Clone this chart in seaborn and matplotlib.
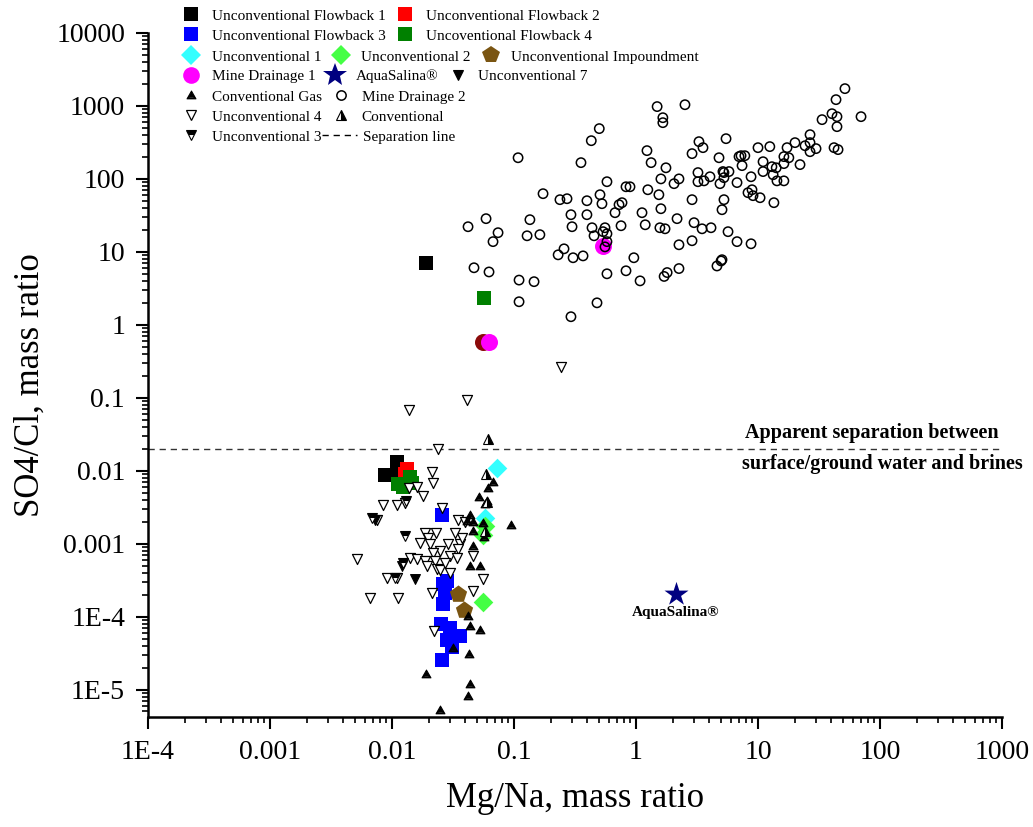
import numpy as np
import matplotlib
matplotlib.use("Agg")
import matplotlib.pyplot as plt
import seaborn as sns
from matplotlib.lines import Line2D
from matplotlib.path import Path
from matplotlib.ticker import LogLocator, NullFormatter

# ---------------- data (Mg/Na vs SO4/Cl mass ratios) ----------------
fb1_x = [0.019, 0.0088, 0.011, 0.0115]
fb1_y = [7.0, 0.0088, 0.013, 0.010]
fb2_x = [0.0133, 0.0128]
fb2_y = [0.0106, 0.0090]
fb3_x = [0.0257, 0.0262, 0.0270, 0.0262, 0.028, 0.0252, 0.030, 0.036, 0.028, 0.031, 0.0259]
fb3_y = [0.0025, 2.8e-4, 2.1e-4, 1.5e-4, 3.1e-4, 8.0e-5, 7.0e-5, 5.5e-5, 4.7e-5, 3.8e-5, 2.5e-5]
fb4_x = [0.057, 0.0123, 0.0146, 0.0112, 0.014]
fb4_y = [2.3, 0.0059, 0.0068, 0.0066, 0.0082]
unc1_x = [0.0726, 0.0578]
unc1_y = [0.011, 0.00227]
unc2_x = [0.0578, 0.0557, 0.0557]
unc2_y = [0.00176, 0.0013, 1.56e-4]
imp_x = [0.0348, 0.0392]
imp_y = [2.07e-4, 1.25e-4]
md1_x = [0.062, 0.54]
md1_y = [0.585, 12.0]
other_x = [0.056]
other_y = [0.58]
aqua_x = [2.13]
aqua_y = [2.07e-4]
unc7_x = [0.0121, 0.0154, 0.0073]
unc7_y = [4.9e-4, 3.3e-4, 0.0021]
unc3_x = [0.0069, 0.0128, 0.0123, 0.0106, 0.013]
unc3_y = [0.00227, 0.00129, 5.5e-4, 3.4e-4, 0.0039]
gas_x = [0.0673, 0.0612, 0.0517, 0.060, 0.0578, 0.0436, 0.0461, 0.0412, 0.0557, 0.0461,
         0.0568, 0.0461, 0.0436, 0.0526, 0.0945, 0.0419, 0.0436, 0.0526, 0.0316, 0.0427,
         0.019, 0.0436, 0.0419, 0.0247]
gas_y = [0.0071, 0.0057, 0.0044, 0.0039, 0.0035, 0.0025, 0.0020, 0.00206, 0.00194, 0.0015,
         0.00124, 9.4e-4, 5.0e-4, 5.0e-4, 0.0018, 1.03e-4, 7.5e-5, 6.6e-5, 3.7e-5, 3.1e-5,
         1.64e-5, 1.2e-5, 8.2e-6, 5.3e-6]
conv_x = [0.0612, 0.0589, 0.0600, 0.0578]
conv_y = [0.0275, 0.0091, 0.0037, 0.0015]
unc4_x = [0.0138, 0.0412, 0.0238, 0.0213, 0.0217, 0.0138, 0.016, 0.018, 0.0084, 0.011,
          0.0128, 0.0257, 0.0075, 0.0348, 0.0397, 0.0186, 0.0229, 0.017, 0.0197, 0.0205,
          0.0288, 0.0361, 0.0348, 0.0375, 0.0247, 0.0217, 0.0141, 0.016, 0.0186, 0.0225,
          0.0299, 0.0341, 0.0052, 0.0461, 0.0194, 0.0234, 0.0299, 0.0091, 0.011, 0.0213,
          0.0112, 0.0461, 0.0557, 0.0221, 0.0066, 0.243, 0.0247, 0.0272, 0.033]
unc4_y = [0.0687, 0.094, 0.020, 0.0097, 0.0068, 0.0058, 0.0060, 0.0045, 0.0034, 0.0034,
          0.0036, 0.0031, 0.0021, 0.0021, 0.0020, 0.0014, 0.0014, 0.00103, 0.0012, 0.0010,
          0.0010, 0.0010, 8.5e-4, 0.0012, 8.0e-4, 7.5e-4, 6.4e-4, 6.2e-4, 5.8e-4, 5.8e-4,
          6.8e-4, 6.4e-4, 6.1e-4, 6.8e-4, 5.0e-4, 4.5e-4, 4.0e-4, 3.4e-4, 3.4e-4, 2.1e-4,
          1.8e-4, 2.26e-4, 3.3e-4, 6.4e-5, 1.78e-4, 0.267, 4.3e-4, 5.4e-4, 0.0014]
md2_x = [1.49, 2.52, 1.66, 1.66, 0.50, 0.43, 0.108, 0.354, 1.23, 1.33,
         1.76, 3.28, 3.54, 5.47, 2.88, 4.79, 6.99, 3.22, 4.04, 5.16,
         5.78, 0.578, 0.828, 0.893, 1.25, 1.60, 2.25, 2.05, 3.22, 3.61,
         4.88, 5.26, 6.73, 0.173, 0.238, 0.272, 0.396, 0.507, 0.526, 0.768,
         0.726, 1.54, 2.88, 5.26, 5.07, 1.60, 1.12, 0.673, 0.396, 0.293,
         0.135, 0.059, 0.042, 0.074, 0.0673, 0.128, 0.163, 0.299, 0.436, 0.557,
         0.453, 0.537, 0.578, 0.578, 0.557, 0.754, 1.19, 1.57, 1.73, 2.17,
         2.99, 3.48, 4.12, 5.68, 6.73, 2.88, 2.25, 0.96, 0.828, 1.08,
         0.578, 1.70, 1.80, 2.25, 4.61, 4.98, 0.23, 0.257, 0.305, 0.368,
         0.047, 0.0624, 0.11, 0.146, 0.11, 0.479, 0.293,
         51.6, 43.6, 40.4, 44.4, 33.5, 69.9, 44.4, 26.7, 20.1, 17.3,
         24.3, 26.7, 29.9, 26.7, 42.0, 45.3, 16.3, 17.9, 16.3, 22.1,
         12.5, 10.0, 7.8, 7.26, 7.4, 11.0, 13.0, 14.1, 11.0, 13.3,
         14.3, 16.3, 8.77, 5.26, 8.93, 8.28, 9.1, 10.4, 13.5, 8.77, 5.07]
md2_y = [980, 1040, 690, 590, 489, 334, 195, 167, 244, 167,
         142, 324, 268, 356, 222, 195, 202, 122, 107, 126,
         126, 91.5, 78, 78, 71, 100, 100, 86, 91.5, 94,
         86, 104, 89, 62.7, 51.9, 53.5, 50.2, 60.7, 45.7, 47.2,
         44.3, 60.7, 51.9, 51.9, 37.8, 39, 34.4, 34.4, 32.3, 32.3,
         27.6, 28.5, 22.1, 18.3, 13.8, 16.6, 17.2, 22.1, 21.4, 21.4,
         16.6, 18.9, 17.7, 13.8, 11.7, 22.8, 23.5, 21.4, 20.7, 28.5,
         25.1, 20.7, 21.4, 18.9, 13.8, 14.2, 12.5, 8.3, 5.5, 4.0,
         5.0, 4.6, 5.2, 5.9, 6.4, 7.5, 9.1, 11.0, 8.3, 8.8,
         6.05, 5.3, 4.1, 3.9, 2.07, 2.0, 1.29,
         1727, 1220, 783, 713, 649, 713, 520, 404, 314, 268,
         285, 314, 260, 236, 268, 252, 202, 195, 162, 157,
         277, 268, 208, 208, 152, 172, 147, 142, 126, 114,
         94, 94, 107, 122, 71, 64.7, 58.9, 55.2, 47.2, 12.9, 7.8]
SEPARATION = 0.02

x_ticks = [1e-4, 1e-3, 1e-2, 1e-1, 1, 10, 100, 1000]
x_tick_labels = ["1E-4", "0.001", "0.01", "0.1", "1", "10", "100", "1000"]
y_ticks = [1e-5, 1e-4, 1e-3, 1e-2, 1e-1, 1, 10, 100, 1000, 10000]
y_tick_labels = ["1E-5", "1E-4", "0.001", "0.01", "0.1", "1", "10", "100", "1000", "10000"]

# ---------------- style ----------------
sns.set_theme(style="ticks")
plt.rcParams['font.family'] = ['Liberation Serif', 'DejaVu Serif']
plt.rcParams['text.color'] = 'black'
plt.rcParams['axes.labelcolor'] = 'black'
plt.rcParams['xtick.color'] = 'black'
plt.rcParams['ytick.color'] = 'black'

C_CYAN = '#33FFFF'
C_LIME = '#44FF44'
C_BROWN = '#7A5512'
C_NAVY = '#000080'

# custom marker: black up-triangle with white strip near the base
gas_marker = Path(
    [(-1, -0.75), (1, -0.75), (0, 1), (-1, -0.75),
     (-0.55, -0.58), (-0.55, -0.33), (0.55, -0.33), (0.55, -0.58), (-0.55, -0.58)],
    [Path.MOVETO, Path.LINETO, Path.LINETO, Path.CLOSEPOLY,
     Path.MOVETO, Path.LINETO, Path.LINETO, Path.LINETO, Path.CLOSEPOLY])

fig = plt.figure(figsize=(10.33, 8.27), dpi=100)
ax = fig.add_axes([148 / 1033, 1 - 717 / 827, 854 / 1033, 684 / 827])
ax.set_xscale('log')
ax.set_yscale('log')


def sc(x, y, **kw):
    sns.scatterplot(x=x, y=y, ax=ax, legend=False, **kw)


sc(fb1_x, fb1_y, marker='s', s=110, color='black', linewidth=0, zorder=3)
sc(fb2_x, fb2_y, marker='s', s=110, color='#FF0000', linewidth=0, zorder=3)
sc(fb4_x, fb4_y, marker='s', s=110, color='#008000', linewidth=0, zorder=3)
sc(fb3_x, fb3_y, marker='s', s=115, color='#0000FF', linewidth=0, zorder=3)
sc(unc1_x, unc1_y, marker='D', s=100, color=C_CYAN, linewidth=0, zorder=3)
sc(unc2_x, unc2_y, marker='D', s=100, color=C_LIME, linewidth=0, zorder=3)
sc(imp_x, imp_y, marker='p', s=170, color=C_BROWN, linewidth=0, zorder=3.1)
sc(other_x, other_y, marker='o', s=150, color='#8B0A0A', linewidth=0, zorder=3)
sc(md1_x, md1_y, marker='o', s=150, color='#FF00FF', linewidth=0, zorder=3.05)
sc(aqua_x, aqua_y, marker='*', s=330, color=C_NAVY, linewidth=0, zorder=3)

sc(md2_x, md2_y, marker='o', s=45, color='black', facecolor='none', edgecolor='black',
   linewidth=1.1, zorder=4)
sc(unc4_x, unc4_y, marker='v', s=52, color='white', facecolor='white', edgecolor='black',
   linewidth=0.9, zorder=4)
sc(gas_x, gas_y, marker=gas_marker, s=42, color='black', edgecolor='black',
   linewidth=0.7, zorder=4.2)
sc(unc7_x, unc7_y, marker='v', s=50, color='black', edgecolor='black', linewidth=0.8, zorder=4.1)
ax.plot(unc3_x, unc3_y, linestyle='none', marker='v', ms=7.2, fillstyle='top',
        mfc='black', markerfacecoloralt='white', mec='black', mew=0.8, zorder=4.1)
ax.plot(conv_x, conv_y, linestyle='none', marker='^', ms=7, fillstyle='right',
        mfc='black', markerfacecoloralt='white', mec='black', mew=0.8, zorder=4.2)

ax.axhline(SEPARATION, color='#333333', lw=1.0, linestyle=(0, (4.5, 3.5)), zorder=2)

# annotations
ax.annotate('AquaSalina®', (aqua_x[0], aqua_y[0]), xytext=(0, -14), textcoords='offset points',
            ha='center', va='center', fontsize=11, fontweight='bold')
ax.annotate('Apparent separation between', (0.848, SEPARATION),
            xycoords=('axes fraction', 'data'), xytext=(0, 11), textcoords='offset points',
            ha='center', va='center', fontsize=14.5, fontweight='bold')
ax.annotate('surface/ground water and brines', (0.86, SEPARATION),
            xycoords=('axes fraction', 'data'), xytext=(0, -11), textcoords='offset points',
            ha='center', va='center', fontsize=14.5, fontweight='bold')

# axes
ax.set_xlim(1e-4, 1e3)
ax.set_ylim(4.2e-6, 1e4)
ax.set_xticks(x_ticks, x_tick_labels)
ax.set_yticks(y_ticks, y_tick_labels)
ax.xaxis.set_minor_locator(LogLocator(base=10, subs=np.arange(2, 10), numticks=100))
ax.yaxis.set_minor_locator(LogLocator(base=10, subs=np.arange(2, 10), numticks=100))
ax.xaxis.set_minor_formatter(NullFormatter())
ax.yaxis.set_minor_formatter(NullFormatter())
ax.tick_params(which='major', direction='out', length=8.5, width=1.5, labelsize=20, pad=8)
ax.tick_params(which='minor', direction='out', length=4, width=1.2)
for side in ['top', 'right']:
    ax.spines[side].set_visible(False)
for side in ['left', 'bottom']:
    ax.spines[side].set_linewidth(1.8)
    ax.spines[side].set_color('black')
ax.set_xlabel('Mg/Na, mass ratio', fontsize=25)
ax.set_ylabel('SO4/Cl, mass ratio', fontsize=25)
ax.xaxis.set_label_coords(0.5, -0.095)
ax.yaxis.set_label_coords(-0.118, 0.485)

# ---------------- legend (flowing rows) ----------------
def mk(marker, ms, fc, ec=None, **kw):
    return Line2D([], [], linestyle='none', marker=marker, ms=ms, mfc=fc,
                  mec=ec if ec is not None else fc, **kw)

h_fb1 = mk('s', 10.5, 'black', mew=0)
h_fb2 = mk('s', 10.5, '#FF0000', mew=0)
h_fb3 = mk('s', 10.5, '#0000FF', mew=0)
h_fb4 = mk('s', 10.5, '#008000', mew=0)
h_u1 = mk('D', 10, C_CYAN, mew=0)
h_u2 = mk('D', 10, C_LIME, mew=0)
h_imp = mk('p', 13, C_BROWN, mew=0)
h_md1 = mk('o', 12, '#FF00FF', mew=0)
h_aq = mk('*', 18, C_NAVY, mew=0)
h_u7 = mk('v', 7, 'black', 'black', mew=0.8)
h_gas = mk(gas_marker, 6.5, 'black', 'black', mew=0.7)
h_md2 = mk('o', 6.7, 'none', 'black', mew=1.1)
h_u4 = mk('v', 7.2, 'white', 'black', mew=0.9)
h_conv = mk('^', 7, 'black', 'black', mew=0.8, fillstyle='right', markerfacecoloralt='white')
h_u3 = mk('v', 7.2, 'black', 'black', mew=0.8, fillstyle='top', markerfacecoloralt='white')
h_sep = Line2D([], [], color='black', lw=1.0, linestyle=(0, (4.5, 3.5)))

rows = [
    (16, [(h_fb1, 'Unconventional Flowback 1'), (h_fb2, 'Unconventional Flowback 2')]),
    (36, [(h_fb3, 'Unconventional Flowback 3'), (h_fb4, 'Uncoventional Flowback 4')]),
    (57, [(h_u1, 'Unconventional 1'), (h_u2, 'Unconventional 2'), (h_imp, 'Unconventional Impoundment')]),
    (76, [(h_md1, 'Mine Drainage 1'), (h_aq, 'AquaSalina®'), (h_u7, 'Unconventional 7')]),
    (97, [(h_gas, 'Conventional Gas'), (h_md2, 'Mine Drainage 2')]),
    (117, [(h_u4, 'Unconventional 4'), (h_conv, 'Conventional')]),
    (137, [(h_u3, 'Unconventional 3')]),
]
for ypx, items in rows:
    hs = [h for h, _ in items]
    ls = [l for _, l in items]
    fig.legend(hs, ls, loc='center left', bbox_to_anchor=(183.5 / 1033, 1 - ypx / 827),
               ncol=len(items), frameon=False, fontsize=11, handlelength=1.0,
               handletextpad=0.85, columnspacing=0.78, borderpad=0, borderaxespad=0)
fig.legend([h_sep], ['Separation line'], loc='center left',
           bbox_to_anchor=(322 / 1033, 1 - 137 / 827), frameon=False, fontsize=11,
           handlelength=2.3, handletextpad=0.4, borderpad=0, borderaxespad=0)

fig.savefig('out.png', dpi=100, facecolor='white')
